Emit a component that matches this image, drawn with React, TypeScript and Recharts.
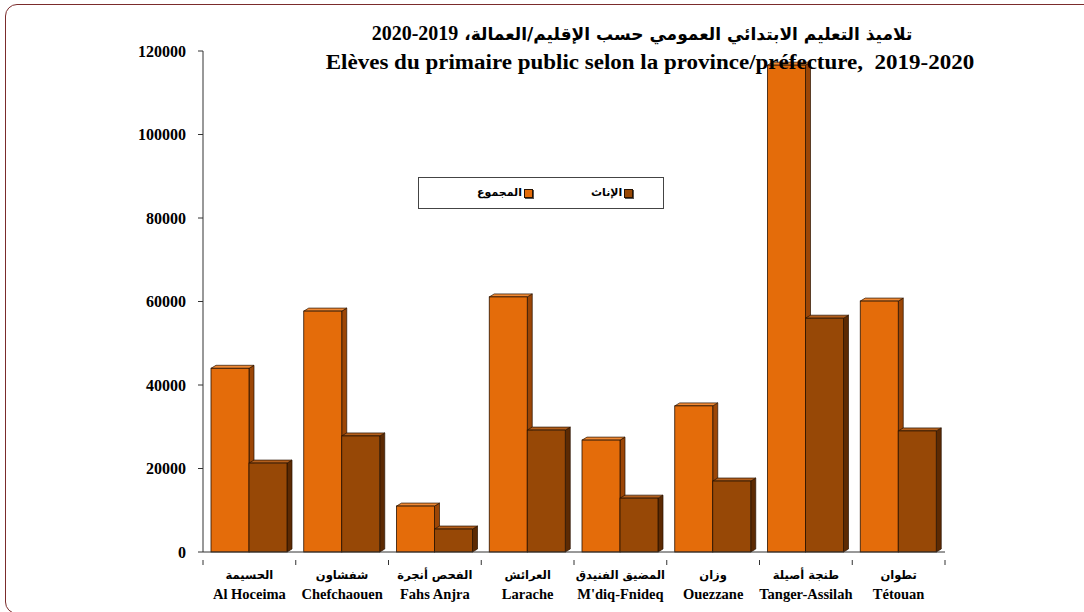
import React from "react";
import { BarChart, Bar, XAxis, YAxis } from "recharts";

// Élèves du primaire public, 2019-2020
const categoriesAr = ["الحسيمة", "شفشاون", "الفحص أنجرة", "العرائش", "المضيق الفنيدق", "وزان", "طنجة أصيلة", "تطوان"];
const categoriesFr = ["Al Hoceima", "Chefchaouen", "Fahs Anjra", "Larache", "M'diq-Fnideq", "Ouezzane", "Tanger-Assilah", "Tétouan"];
const totalValues = [44000, 57700, 11000, 61100, 26800, 35000, 116600, 60100];
const femaleValues = [21300, 27800, 5500, 29200, 12900, 17000, 56000, 29000];
const yTicks = [0, 20000, 40000, 60000, 80000, 100000, 120000];

const seriesTotal = { key: "total", label: "المجموع", front: "#e46c0a", side: "#9c4606", top: "#f08a35" };
const seriesFemale = { key: "female", label: "الإناث", front: "#974806", side: "#5c2a03", top: "#b35f1c" };

const W = 1084;
const H = 612;
const PLOT_LEFT = 203;
const PLOT_RIGHT = 945;
const BAND = (PLOT_RIGHT - PLOT_LEFT) / categoriesFr.length;

const data = categoriesFr.map((fr, i) => ({
  fr,
  ar: categoriesAr[i],
  total: totalValues[i],
  female: femaleValues[i],
}));

const serif = "'Liberation Serif', 'Times New Roman', serif";
const arabic = "'DejaVu Sans', 'Liberation Sans', sans-serif";

const Box3D = (colors: { front: string; side: string; top: string }) => (props: any) => {
  const { x, y, width, height } = props;
  if (height == null || height <= 0) return null;
  const dx = 5;
  const dy = 3;
  const edge = "#2a1300";
  return (
    <g>
      <polygon
        points={`${x + width},${y} ${x + width + dx},${y - dy} ${x + width + dx},${y + height - dy} ${x + width},${y + height}`}
        fill={colors.side}
        stroke={edge}
        strokeWidth={0.7}
      />
      <polygon
        points={`${x},${y} ${x + dx},${y - dy} ${x + width + dx},${y - dy} ${x + width},${y}`}
        fill={colors.top}
        stroke={edge}
        strokeWidth={0.7}
      />
      <rect x={x} y={y} width={width} height={height} fill={colors.front} stroke={edge} strokeWidth={0.8} />
    </g>
  );
};

const CategoryTick = (props: any) => {
  const { x, y, payload, index } = props;
  const row = data[index];
  const left = x - BAND / 2;
  return (
    <g>
      <line x1={left} y1={y} x2={left} y2={y + 5} stroke="#333" strokeWidth={1} />
      {index === data.length - 1 && (
        <line x1={x + BAND / 2} y1={y} x2={x + BAND / 2} y2={y + 5} stroke="#333" strokeWidth={1} />
      )}
      <text x={x} y={y + 19} textAnchor="middle" direction="rtl" fontFamily={arabic} fontWeight="bold" fontSize={11.5} fill="#000">
        {row ? row.ar : ""}
      </text>
      <text x={x} y={y + 39} textAnchor="middle" fontFamily={serif} fontWeight="bold" fontSize={14.5} fill="#000">
        {payload.value}
      </text>
    </g>
  );
};

const LegendSwatch = ({ color }: { color: string }) => (
  <span
    style={{
      display: "inline-block",
      width: 7,
      height: 7,
      background: color,
      border: "1px solid #2a1300",
      boxShadow: "1px 1px 0 #555",
      marginLeft: 2,
      verticalAlign: "middle",
    }}
  />
);

export default function App() {
  return (
    <div style={{ position: "absolute", left: 0, top: 0, width: W, height: H, background: "#fff", overflow: "hidden" }}>
      <div
        style={{
          position: "absolute",
          left: 5,
          top: 4,
          width: 1100,
          height: 610,
          border: "1.5px solid #7b2c2c",
          borderRadius: 12,
          boxSizing: "border-box",
        }}
      />
      <BarChart
        width={W}
        height={H}
        data={data}
        margin={{ top: 51, right: W - PLOT_RIGHT, bottom: 0, left: PLOT_LEFT - 90 }}
        barCategoryGap={8}
        barGap={0}
        style={{ position: "absolute", left: 0, top: 0 }}
      >
        <XAxis
          dataKey="fr"
          interval={0}
          height={60}
          tickLine={false}
          axisLine={{ stroke: "#333", strokeWidth: 1 }}
          tick={<CategoryTick />}
        />
        <YAxis
          width={90}
          domain={[0, 120000]}
          ticks={yTicks}
          interval={0}
          tickSize={5}
          tickMargin={12}
          axisLine={{ stroke: "#333", strokeWidth: 1 }}
          tickLine={{ stroke: "#333" }}
          tick={{ fontFamily: serif, fontWeight: "bold", fontSize: 16, fill: "#000" }}
        />
        <Bar dataKey={seriesTotal.key} barSize={38} shape={Box3D(seriesTotal)} isAnimationActive={false} />
        <Bar dataKey={seriesFemale.key} barSize={38} shape={Box3D(seriesFemale)} isAnimationActive={false} />
      </BarChart>

      <div style={{ position: "absolute", left: 280, top: 20, width: 740, textAlign: "center", pointerEvents: "none" }}>
        <div
          dir="rtl"
          style={{
            fontFamily: arabic,
            fontWeight: "bold",
            fontSize: 17,
            lineHeight: "27px",
            color: "#000",
            transform: "translateX(-8px)",
          }}
        >
          {"تلاميذ التعليم الابتدائي العمومي حسب الإقليم/العمالة،  "}
          <span dir="ltr" style={{ fontFamily: serif, fontSize: 20, unicodeBidi: "isolate" }}>2020-2019</span>
        </div>
        <div
          style={{
            fontFamily: serif,
            fontWeight: "bold",
            fontSize: 20,
            lineHeight: "28px",
            color: "#000",
            whiteSpace: "pre",
            transform: "scaleX(1.15)",
          }}
        >
          {"Elèves du primaire public selon la province/préfecture,  2019-2020"}
        </div>
      </div>

      <div
        style={{
          position: "absolute",
          left: 418,
          top: 177,
          width: 246,
          height: 32,
          border: "1px solid #444",
          background: "#fff",
          boxSizing: "border-box",
          fontFamily: arabic,
          fontWeight: "bold",
          fontSize: 11,
        }}
      >
        <div style={{ position: "absolute", left: 58, top: 8, whiteSpace: "nowrap" }}>
          <span dir="rtl">{seriesTotal.label}</span>
          <LegendSwatch color={seriesTotal.front} />
        </div>
        <div style={{ position: "absolute", left: 172, top: 8, whiteSpace: "nowrap" }}>
          <span dir="rtl">{seriesFemale.label}</span>
          <LegendSwatch color={seriesFemale.front} />
        </div>
      </div>
    </div>
  );
}
